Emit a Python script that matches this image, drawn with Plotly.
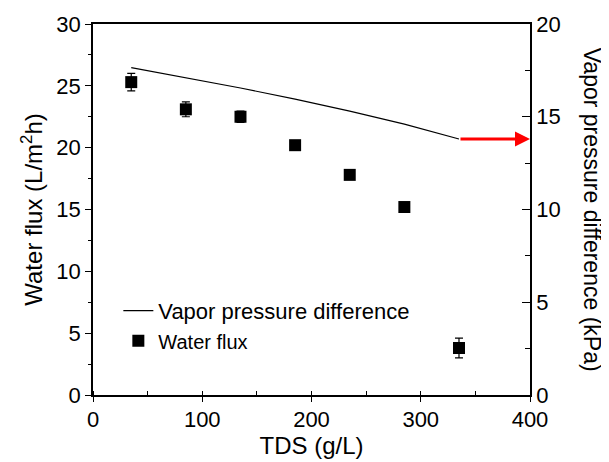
import plotly.graph_objects as go

# ---- data ----
tds = [35, 85, 135, 185, 235, 285, 335]                 # g/L
water_flux = [25.3, 23.1, 22.5, 20.2, 17.8, 15.2, 3.8]   # L/m2h
water_flux_err = [0.7, 0.6, 0.45, 0.3, 0.3, 0.3, 0.8]
vapor_pressure = [17.65, 17.1, 16.55, 15.95, 15.3, 14.6, 13.8]  # kPa

arrow_tail_tds = 335
arrow_head_tds = 400

FONT = "Liberation Sans, Arial, sans-serif"

fig = go.Figure()

fig.add_trace(go.Scatter(
    x=tds, y=vapor_pressure, yaxis="y2", mode="lines",
    line=dict(color="black", width=1.2),
    name='<span style="font-size:22px">Vapor pressure difference</span>',
))
fig.add_trace(go.Scatter(
    x=tds, y=water_flux, mode="markers",
    marker=dict(symbol="square", size=12, color="black"),
    error_y=dict(type="data", array=water_flux_err, color="black",
                 thickness=1.2, width=4),
    name='<span style="font-size:20px">Water flux</span>',
))

fig.add_annotation(
    x=arrow_head_tds, y=vapor_pressure[-1], xref="x", yref="y2",
    ax=arrow_tail_tds, ay=vapor_pressure[-1], axref="x", ayref="y2",
    showarrow=True, arrowhead=2, arrowsize=1, arrowwidth=3,
    arrowcolor="#ff0000", text="",
)

fig.add_annotation(
    text="Vapor pressure difference (kPa)", xref="paper", yref="paper",
    x=1.178, y=0.5, textangle=90, showarrow=False,
    font=dict(family=FONT, size=23, color="black"),
)

axis_common = dict(showline=True, linecolor="black", linewidth=1.5,
                   showgrid=False, zeroline=False, automargin=False,
                   tickfont=dict(family=FONT, size=22, color="black"),
                   tickcolor="black")

# the page body adds an 8px offset; size/margins compensate so the plot
# area lands at x 93..530, y 24..395 in the 609x462 window
fig.update_layout(
    width=601, height=454,
    margin=dict(l=85, r=79, t=16, b=67, autoexpand=False),
    paper_bgcolor="white", plot_bgcolor="white",
    font=dict(family=FONT, color="black"),
    showlegend=True,
    legend=dict(x=0.058, y=0.282, xanchor="left", yanchor="top",
                bgcolor="rgba(0,0,0,0)", tracegroupgap=0,
                font=dict(family=FONT, size=21, color="black")),
    xaxis=dict(range=[0, 400], dtick=100, ticks="outside", ticklen=5,
               tickwidth=1.2, mirror=True, ticklabelstandoff=-1,
               minor=dict(dtick=50, ticks="inside", ticklen=4, tickcolor="black"),
               title=dict(text="TDS (g/L)", font=dict(family=FONT, size=24),
                          standoff=0),
               **axis_common),
    yaxis=dict(range=[0, 30], dtick=5, ticks="outside", ticklen=6,
               tickwidth=1.2,
               minor=dict(dtick=2.5, ticks="outside", ticklen=3, tickcolor="black"),
               title=dict(text="Water flux (L/m<sup>2</sup>h)",
                          font=dict(family=FONT, size=24), standoff=7),
               **axis_common),
    yaxis2=dict(range=[0, 20], dtick=5, overlaying="y", side="right",
                ticks="inside", ticklen=8, tickwidth=1.2,
                minor=dict(dtick=2.5, ticks="inside", ticklen=5, tickcolor="black"),
                **axis_common),
)

fig.write_html("out.html")
